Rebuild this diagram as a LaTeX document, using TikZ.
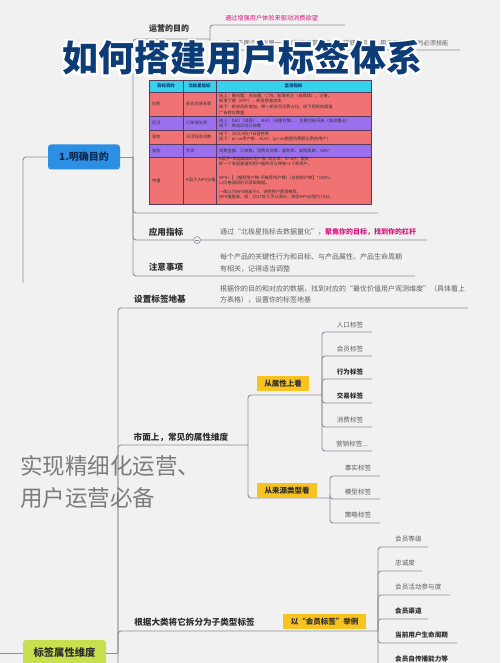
\documentclass[tikz,border=0pt]{standalone}
\usepackage{fontspec}
\setmainfont{Noto Sans CJK SC}
\usetikzlibrary{calc}
\definecolor{bg}{HTML}{F1F1F1}
\definecolor{ln}{HTML}{8C9099}
\definecolor{navy}{HTML}{0D3B75}
\definecolor{boxblue}{HTML}{2D8FE3}
\definecolor{boxtext}{HTML}{0F2A50}
\definecolor{lime}{HTML}{C8E04E}
\definecolor{ylw}{HTML}{F6C320}
\definecolor{pinkc}{HTML}{D8177E}
\definecolor{txt}{HTML}{2E2E2E}
\definecolor{soft}{HTML}{606060}
\definecolor{salmon}{HTML}{F07272}
\definecolor{violet}{HTML}{9A70EE}
\definecolor{cyanh}{HTML}{36D2EC}
\definecolor{tline}{HTML}{5A3A5E}
\definecolor{bigtxt}{HTML}{7C7C7C}
\begin{document}
\begin{tikzpicture}[x=1pt,y=-1pt,
 conn/.style={draw=ln, line width=0.9pt, rounded corners=3pt},
 topic/.style={inner sep=0pt, font=\bfseries\fontsize{8.6}{10}\selectfont, text=txt},
 leaf/.style={inner sep=0pt, font=\fontsize{6.6}{7}\selectfont, text=soft},
 leafb/.style={inner sep=0pt, font=\bfseries\fontsize{6.6}{7}\selectfont, text=txt},
 desc/.style={inner sep=0pt, font=\fontsize{7}{12}\selectfont, text=soft, align=left},
 pinkt/.style={inner sep=0pt, font=\fontsize{6.2}{7}\selectfont, text=pinkc},
 ybox/.style={fill=ylw, inner sep=0pt, font=\bfseries\fontsize{7.5}{8}\selectfont, text=txt},
 box1/.style={fill=boxblue, rounded corners=3pt, minimum width=72pt, minimum height=25pt, inner sep=0pt, font=\bfseries\fontsize{10}{11}\selectfont, text=boxtext},
 box2/.style={fill=lime, rounded corners=3pt, minimum width=83pt, minimum height=26pt, inner sep=0pt, font=\bfseries\fontsize{10.3}{11}\selectfont, text=txt},
 cell/.style={inner sep=0pt, font=\fontsize{4.2}{4.9}\selectfont, text=black!80, align=left},
 cellh/.style={inner sep=0pt, font=\bfseries\fontsize{4.4}{5}\selectfont, text=navy},
 collapse/.style={circle, draw=ln, fill=bg, minimum size=7pt, inner sep=0pt, line width=0.6pt},
 ttl/.style={inner sep=0pt, font=\bfseries\fontsize{36}{40}\selectfont},
 big/.style={inner sep=0pt, font=\fontsize{22.5}{24}\selectfont, text=bigtxt}
]
\fill[bg] (0,0) rectangle (500,663);
\useasboundingbox (0,0) rectangle (500,663);

% ---------- section 1 ----------
\coordinate (t0) at (23,283);
\node[box1] (b1) at (84,157) {1.明确目的};
\coordinate (j1) at (133,157);
\draw[conn] (t0) |- (b1.west);
\draw[conn] (b1.east) -- (j1);

\node[topic, font=\bfseries\fontsize{8}{9}\selectfont] (g1) at (169,29) {运营的目的};
\coordinate (g1e) at (210,39);
\draw[conn] (j1) |- (g1e);
\node[pinkt] (g1a) at (271.5,18) {通过增强用户体验来驱动消费欲望};
\coordinate (g1ae) at (345,25);
\draw[conn] (g1e) |- (g1ae);
\node[desc, font=\fontsize{6.2}{7}\selectfont, anchor=west] (g1b) at (225,43) {千人千面个性化是一种有效的运营手段，是精细化运营、用户深度运营的必须技能};
\coordinate (g1be) at (460,50);
\draw[conn] (g1e) |- (g1be);

% table
\node[minimum width=222pt, minimum height=124pt, inner sep=0pt] (tbl) at (260,142) {};
\coordinate (tble) at (378,213);
\draw[conn] (j1) |- (tble);
\fill[cyanh] (149,80) rectangle (371,92);
\fill[salmon] (149,92) rectangle (371,116);
\fill[violet] (149,116) rectangle (371,130);
\fill[salmon] (149,130) rectangle (371,144);
\fill[violet] (149,144) rectangle (371,157);
\fill[salmon] (149,157) rectangle (371,204);
\draw[tline, line width=0.4pt] (149,80) rectangle (371,204);
\foreach \yy in {92,116,130,144,157} \draw[tline, line width=0.4pt] (149,\yy) -- (371,\yy);
\foreach \xx in {183,216} \draw[tline, line width=0.4pt] (\xx,80) -- (\xx,204);
\node[cellh] (th1) at (166,86) {目标目的};
\node[cellh] (th2) at (199.5,86) {北极星指标};
\node[cellh] (th3) at (293.5,86) {监测指标};
\node[cell, anchor=west] (r1a) at (152,104) {拉新};
\node[cell, anchor=west] (r1b) at (186,104) {新会员增长率};
\node[cell, anchor=west, font=\fontsize{4.2}{5.6}\selectfont] (r1c) at (219,104) {线上：曝光量、点击量、CTR、新增关注（自媒体）、注册、\\新增下载（APP）、新客获客成本\\线下：新会员的增加、带一新会员消费占比、线下招新的渠道\\广告转化数量};
\node[cell, anchor=west] (r2a) at (152,123) {促活};
\node[cell, anchor=west] (r2b) at (186,123) {订单增长率};
\node[cell, anchor=west] (r2c) at (219,123) {线上：DAU（或周）、MAU（去重并集）、主要功能开启（如流量占）\\线下：单店日均订单数};
\node[cell, anchor=west] (r3a) at (152,137) {留存};
\node[cell, anchor=west] (r3b) at (186,137) {日活跃会员数};
\node[cell, anchor=west] (r3c) at (219,137) {线下：次日/3日/7日留存率\\线下：pr-on用户数、ALOC（pr-on期望消费额比例的用户）};
\node[cell, anchor=west] (r4a) at (152,150.5) {复购};
\node[cell, anchor=west] (r4b) at (186,150.5) {利润};
\node[cell, anchor=west] (r4c) at (219,150.5) {消费金额、订单数、消费会员数、复购率、复购周期、GMV};
\node[cell, anchor=west] (r5a) at (152,180.5) {传播};
\node[cell, anchor=west] (r5b) at (186,180.5) {K因子/NPS分值};
\node[cell, anchor=west] (r5c) at (219,161.5) {K因子=发起邀请的用户数*转化率，K>1时，裂变\\即一个发起邀请的用户最终可以带来>1个新用户。};
\node[cell, anchor=west] (r5d) at (219,180) {NPS=【（推荐用户数-不推荐用户数）/总的用户数】*100\%，\\以问卷调研形式获取数据。};
\node[cell, anchor=west] (r5e) at (219,194.5) {一般认为NPS值高于0，说明用户愿意推荐，\\NPS值越高，如：2017年几乎以满分，体验NPS分值为72分。};

\node[topic] (g2) at (166,232) {应用指标};
\coordinate (g2e) at (427,240);
\draw[conn] (j1) |- (g2e);
\node[desc, anchor=west] (g2d) at (220,232) {通过“北极星指标去数据量化”，\textcolor{pinkc}{\bfseries 聚焦你的目标，找到你的杠杆}};
\node[collapse] (c1) at (197,240) {};
\draw[ln, line width=0.5pt] ($(c1.center)+(-2,0)$) -- ($(c1.center)+(2,0)$);

\node[topic] (g3) at (166,267) {注意事项};
\coordinate (g3e) at (415,276);
\draw[conn] (j1) |- (g3e);
\node[desc, anchor=west] (g3d) at (220,263) {每个产品的关键性行为和目标、与产品属性、产品生命周期\\有相关，记得适当调整};

% ---------- section 2 ----------
\node[box2] (b2) at (64.5,653) {标签属性维度};
\coordinate (lft) at (0,653);
\coordinate (j2) at (118,653);
\coordinate (j2b) at (118,680);
\draw[conn] (lft) -- (b2.west);
\draw[conn] (b2.east) -- (j2);
\coordinate (h1e) at (468,308);
\draw[conn] (j2b) |- (h1e);
\node[topic] (h1) at (160,299) {设置标签地基};
\node[desc, font=\fontsize{7}{11}\selectfont, anchor=west] (h1d) at (220,294.5) {根据你的目的和对应的数据，找到对应的“最优价值用户观测维度”（具体看上\\方表格），设置你的标签地基};

\node[topic] (h2) at (181,437) {市面上，常见的属性维度};
\coordinate (h2e) at (248,445);
\draw[conn] (j2) |- (h2e);

\coordinate (a1e) at (322,395);
\draw[conn] (h2e) |- (a1e);
\node[ybox, minimum width=52pt, minimum height=15pt] (a1) at (283,383.5) {从属性上看};
\node[leaf] (l1) at (350,325) {人口标签};
\coordinate (l1e) at (372,332);
\draw[conn] (a1e) |- (l1e);
\node[leaf] (l2) at (350,349) {会员标签};
\coordinate (l2e) at (372,356);
\draw[conn] (a1e) |- (l2e);
\node[leafb] (l3) at (350,372) {行为标签};
\coordinate (l3e) at (372,379);
\draw[conn] (a1e) |- (l3e);
\node[leafb] (l4) at (350,396) {交易标签};
\coordinate (l4e) at (372,403);
\draw[conn] (a1e) |- (l4e);
\node[leaf] (l5) at (350,420) {消费标签};
\coordinate (l5e) at (372,427);
\draw[conn] (a1e) |- (l5e);
\node[leaf] (l6) at (352,444) {营销标签...};
\coordinate (l6e) at (372,451);
\draw[conn] (a1e) |- (l6e);

\coordinate (a2e) at (330,498);
\draw[conn] (h2e) |- (a2e);
\node[ybox, minimum width=60pt, minimum height=15pt] (a2) at (287,490.5) {从来源类型看};
\node[leaf] (k1) at (358,468) {事实标签};
\coordinate (k1e) at (380,476);
\draw[conn] (a2e) |- (k1e);
\node[leaf] (k2) at (358,492) {模型标签};
\coordinate (k2e) at (380,499);
\draw[conn] (a2e) |- (k2e);
\node[leaf] (k3) at (358,515) {策略标签};
\coordinate (k3e) at (380,523);
\draw[conn] (a2e) |- (k3e);

\node[topic] (h3) at (194.5,622) {根据大类将它拆分为子类型标签};
\coordinate (h3e) at (378,631);
\draw[conn] (j2) |- (h3e);
\node[ybox, minimum width=83pt, minimum height=15pt] (m0) at (324.5,621.5) {以“会员标签”举例};
\node[leaf, anchor=west] (m1) at (395,539) {会员等级};
\coordinate (m1e) at (428,547);
\draw[conn] (h3e) |- (m1e);
\node[leaf, anchor=west] (m2) at (395,563) {忠诚度};
\coordinate (m2e) at (422,571);
\draw[conn] (h3e) |- (m2e);
\node[leaf, anchor=west] (m3) at (395,587) {会员活动参与度};
\coordinate (m3e) at (450,595);
\draw[conn] (h3e) |- (m3e);
\node[leafb, anchor=west] (m4) at (395,611) {会员渠道};
\coordinate (m4e) at (428,619);
\draw[conn] (h3e) |- (m4e);
\node[leafb, anchor=west] (m5) at (395,635) {当前用户生命周期};
\coordinate (m5e) at (457,643);
\draw[conn] (h3e) |- (m5e);
\node[leafb, anchor=west] (m6) at (395,659) {会员自传播能力等};
\coordinate (m6e) at (457,667);
\draw[conn] (h3e) |- (m6e);

% ---------- overlays ----------
\node[big, anchor=west] (bt1) at (20,466) {实现精细化运营、};
\node[big, anchor=west] (bt2) at (20,498) {用户运营必备};

\node[ttl, text=white] (titlehalo) at (242,58) {\special{pdf:literal direct 1 Tr 4.6 w 1 j 1 J}如何搭建用户标签体系\special{pdf:literal direct 0 Tr 1 w}};
\node[ttl, text=navy] (title) at (242,58) {如何搭建用户标签体系};
\end{tikzpicture}
\end{document}
